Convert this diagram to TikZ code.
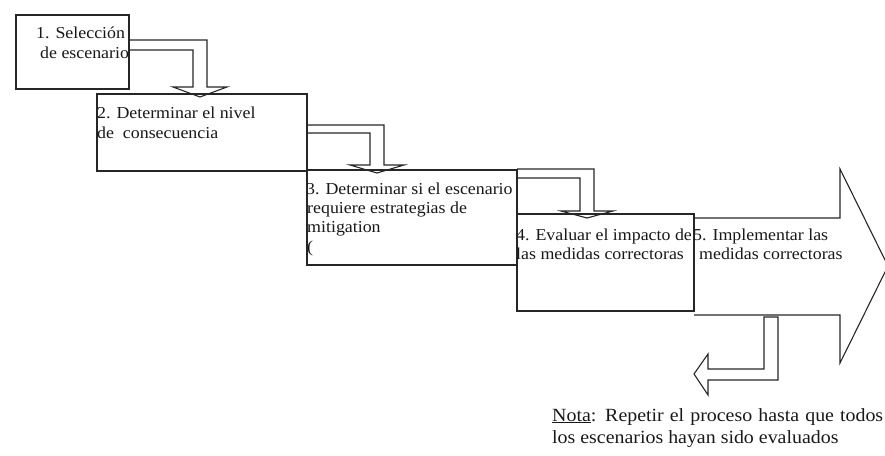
\documentclass[tikz,border=0pt]{standalone}
\usepackage{fontspec}
\setmainfont{Liberation Serif}[FakeStretch=1.07]
\begin{document}
\begin{tikzpicture}[x=1pt,y=-1pt,
  ln/.style={draw=black!85,line width=1.1pt,line join=miter},
  box/.style={ln,fill=white},
  txt/.style={anchor=base west,inner sep=0pt,text=black!90,font=\fontsize{16.7}{19.5}\selectfont},
  ntxt/.style={anchor=base west,inner sep=0pt,text=black!90,font=\fontsize{18.6}{22}\selectfont}]
\useasboundingbox (0,0) rectangle (885,455);
\clip (0,0) rectangle (885,455);
% boxes
\path[box] (16,15) rectangle (129,89);
\path[box] (97,94) rectangle (307,171);
\path[box] (307,170) rectangle (517,265);
\path[box] (517,214) rectangle (694,311);
% big arrow 5
\path[ln] (694,218) -- (840,218) -- (840,169) -- (888,266) -- (840,363) -- (840,315) -- (694,315);
% bent arrows
\path[ln] (129,40) -- (207,40) -- (207,87) -- (227,87) -- (200,97) -- (173,87) -- (193,87) -- (193,50) -- (129,50);
\path[ln] (307,125) -- (384,125) -- (384,165) -- (404,165) -- (377,173) -- (350,165) -- (370,165) -- (370,133) -- (307,133);
\path[ln] (517,169) -- (594,169) -- (594,211) -- (613,211) -- (587,218) -- (561,211) -- (580,211) -- (580,178) -- (517,178);
% return arrow
\path[ln] (764,317) -- (778,317) -- (778,380) -- (708,380) -- (708,395) -- (694,374) -- (708,354) -- (708,369) -- (764,369) -- cycle;
% texts
\node[txt] (t1a) at (36,38) {1. Selección};
\node[txt] (t1b) at (40,58) {de escenario};
\node[txt] (t2a) at (97,118) {2. Determinar el nivel};
\node[txt] (t2b) at (97,138) {de\ \ consecuencia};
\node[txt] (t3a) at (306,194) {3. Determinar si el escenario};
\node[txt] (t3b) at (307,213) {requiere estrategias de};
\node[txt] (t3c) at (307,232) {mitigation};
\node[txt] (t3d) at (307,252) {(};
\node[txt] (t4a) at (516,240) {4. Evaluar el impacto de};
\node[txt] (t4b) at (516,259) {las medidas correctoras};
\node[txt] (t5a) at (693,240) {5. Implementar las};
\node[txt] (t5b) at (699,259) {medidas correctoras};
\node[ntxt] (na) at (552,421) {\makebox[331pt][s]{\underline{Nota}: Repetir el proceso hasta que todos}};
\node[ntxt] (nb) at (552,443) {los escenarios hayan sido evaluados};
\end{tikzpicture}
\end{document}
